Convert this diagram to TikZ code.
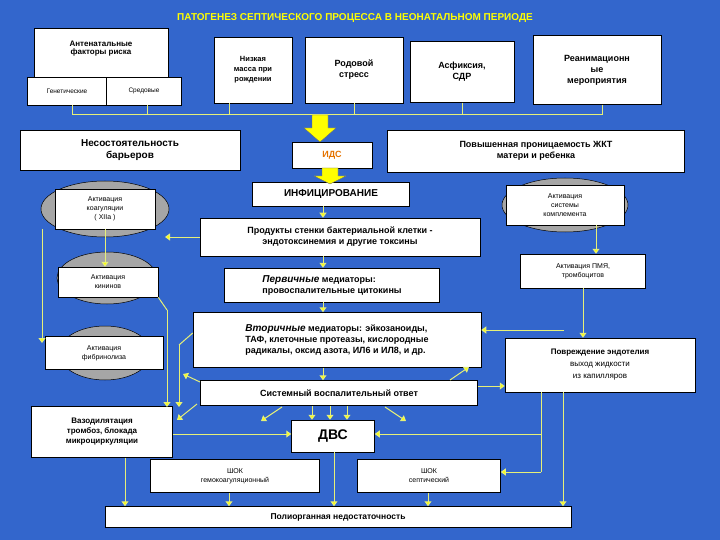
\documentclass[tikz,border=0pt]{standalone}
\usepackage{fontspec}
\setmainfont{Liberation Sans}
\usetikzlibrary{arrows.meta,shapes.geometric}
\definecolor{bg}{RGB}{51,102,204}
\definecolor{yl}{RGB}{255,255,0}
\definecolor{ln}{RGB}{230,240,120}
\begin{document}
\begin{tikzpicture}[x=1pt,y=-1pt,
 box/.style={draw=black,fill=white,line width=0.5pt,align=center,inner sep=1pt,font=\fontsize{9}{11}\selectfont\bfseries},
 sbox/.style={box,font=\fontsize{7}{9}\selectfont},
 ell/.style={ellipse,draw=black,fill=gray!70,line width=0.5pt},
 ar/.style={draw=ln,line width=1pt,-{Triangle[length=5pt,width=7pt,fill=yl]}},
 ln/.style={draw=ln,line width=1pt},
 blk/.style={fill=yl,draw=black!60,line width=0.3pt}]
\fill[bg] (0,0) rectangle (720,540);
\useasboundingbox (0,0) rectangle (720,540);
\node[font=\fontsize{10}{12}\selectfont\bfseries,text=yl] (title) at (355,18) {ПАТОГЕНЕЗ СЕПТИЧЕСКОГО ПРОЦЕССА В НЕОНАТАЛЬНОМ ПЕРИОДЕ};
% top boxes
\node[box,font=\fontsize{8}{10}\selectfont\bfseries,minimum width=134pt,minimum height=49pt,anchor=north,text depth=0pt] (ant) at (101,28) {\raisebox{10pt}{\shortstack{Антенатальные\\факторы риска}}};
\node[sbox,font=\fontsize{6.5}{8}\selectfont,minimum width=79pt,minimum height=28pt] (gen) at (67,91) {Генетические};
\node[sbox,font=\fontsize{6.5}{8}\selectfont,minimum width=75pt,minimum height=28pt] (sred) at (144,91) {Средовые};
\node[box,font=\fontsize{7.5}{10}\selectfont\bfseries,minimum width=78pt,minimum height=66pt] (niz) at (253,70) {Низкая\\масса при\\рождении};
\node[box,minimum width=98pt,minimum height=66pt] (rod) at (354,70) {Родовой\\стресс};
\node[box,minimum width=104pt,minimum height=61pt] (asf) at (462,72) {Асфиксия,\\СДР};
\node[box,minimum width=128pt,minimum height=69pt] (rean) at (597,70) {Реанимационн\\ые\\мероприятия};
% bus
\coordinate (b1) at (72,115); \coordinate (b6) at (602,115);
\draw[ln] (b1) -- (b6);
\draw[ln] (gen.south -| b1) -- (b1);
\draw[ln] (sred.south -| 147,0) -- (147,115);
\draw[ln] (niz.south -| 229,0) -- (229,115);
\draw[ln] (rod.south) -- (rod.south |- b1);
\draw[ln] (asf.south) -- (asf.south |- b1);
\draw[ln] (rean.south -| b6) -- (b6);
% middle boxes
\node[box,font=\fontsize{10}{12}\selectfont\bfseries,minimum width=220pt,minimum height=40pt] (nes) at (130,150) {Несостоятельность\\барьеров};
\node[box,text=orange!90!black,minimum width=80pt,minimum height=26pt] (ids) at (332,155) {ИДС};
\node[box,minimum width=297pt,minimum height=42pt] (pov) at (536,151) {Повышенная проницаемость ЖКТ\\матери и ребенка};
\fill[blk] (312,115) -- (328,115) -- (328,128) -- (336,128) -- (320,142) -- (304,128) -- (312,128) -- cycle;
\node[box,font=\fontsize{10}{12}\selectfont\bfseries,minimum width=157pt,minimum height=24pt] (inf) at (331,194) {ИНФИЦИРОВАНИЕ};
\fill[blk] (322,168) -- (338,168) -- (338,176) -- (346,176) -- (330,184) -- (314,176) -- (322,176) -- cycle;
% ellipses
\node[ell,minimum width=128pt,minimum height=56pt] (ecoag) at (105,209) {};
\node[sbox,minimum width=100pt,minimum height=40pt] (coag) at (105,209) {Активация\\коагуляции\\( XIIa )};
\node[ell,minimum width=126pt,minimum height=54pt] (ecomp) at (565,205) {};
\node[sbox,minimum width=118pt,minimum height=40pt] (comp) at (565,205) {Активация\\системы\\комплемента};
\node[ell,minimum width=100pt,minimum height=52pt] (ekin) at (107,278) {};
\node[sbox,minimum width=100pt,minimum height=30pt] (kin) at (108,282) {Активация\\кининов};
\node[ell,minimum width=92pt,minimum height=54pt] (efib) at (105,353) {};
\node[sbox,minimum width=118pt,minimum height=33pt] (fib) at (104,353) {Активация\\фибринолиза};
% central chain
\node[box,minimum width=280pt,minimum height=38pt] (prod) at (340,237) {Продукты стенки бактериальной клетки -\\эндотоксинемия и другие токсины};
\node[box,align=left,minimum width=215pt,minimum height=34pt] (perv) at (332,285) {\textit{\fontsize{10}{12}\selectfont Первичные} медиаторы:\\провоспалительные цитокины};
\node[sbox,minimum width=125pt,minimum height=34pt] (pmya) at (583,271) {Активация ПМЯ,\\тромбоцитов};
\node[box,align=left,minimum width=288pt,minimum height=55pt] (vtor) at (337,340) {\textit{\fontsize{10}{12}\selectfont Вторичные} медиаторы: эйкозаноиды,\\ТАФ, клеточные протеазы, кислородные\\радикалы, оксид азота, ИЛ6 и ИЛ8, и др.};
\node[box,font=\fontsize{8}{12}\selectfont,minimum width=190pt,minimum height=54pt] (povr) at (600,365) {\textbf{Повреждение эндотелия}\\\mdseries выход жидкости\\\mdseries из капилляров};
\node[box,minimum width=277pt,minimum height=25pt] (sys) at (339,393) {Системный воспалительный ответ};
\node[box,font=\fontsize{8}{10}\selectfont\bfseries,minimum width=141pt,minimum height=51pt] (vaz) at (102,432) {Вазодилятация\\тромбоз, блокада\\микроциркуляции};
\node[box,font=\fontsize{14}{16}\selectfont\bfseries,minimum width=83pt,minimum height=32pt] (dvs) at (333,436) {ДВС};
\node[sbox,minimum width=169pt,minimum height=33pt] (shg) at (235,476) {ШОК\\гемокоагуляционный};
\node[sbox,minimum width=143pt,minimum height=33pt] (shs) at (429,476) {ШОК\\септический};
\node[box,font=\fontsize{8.5}{10}\selectfont\bfseries,minimum width=466pt,minimum height=21pt] (pol) at (338,517) {Полиорганная недостаточность};
% arrows
\draw[ar] (inf.south -| 323,0) -- (prod.north -| 323,0);
\draw[ar] (prod.south -| 323,0) -- (perv.north -| 323,0);
\draw[ar] (perv.south -| 323,0) -- (vtor.north -| 323,0);
\draw[ar] (vtor.south -| 323,0) -- (sys.north -| 323,0);
\draw[ar] (prod.west) -- (165,237);
\draw[ar] (coag.south) -- (kin.north -| coag.south);
\draw[ar] (42,229) -- (42,343);
\draw[ln] (kin.south east) -- (167,310); \draw[ar] (167,310) -- (167,407);
\draw[ln] (vtor.west |- 0,333) -- (179,345); \draw[ar] (179,345) -- (179,407);
\draw[ar] (comp.south -| 596,0) -- (pmya.north -| 596,0);
\draw[ar] (pmya.south -| 583,0) -- (povr.north -| 583,0);
\draw[ar] (564,330) -- (vtor.east |- 0,330);
\draw[ar] (450,380) -- (469,367);
\draw[ar] (200,382) -- (183,374);
\draw[ar] (197,404) -- (177,420);
\draw[ar] (sys.east |- 0,386) -- (povr.west |- 0,386);
\foreach \x in {312,330,347} \draw[ar] (\x,406) -- (dvs.north -| \x,0);
\draw[ar] (282,407) -- (261,421);
\draw[ar] (385,407) -- (406,421);
\draw[ar] (vaz.east |- 0,434) -- (dvs.west |- 0,434);
\draw[ln] (541,392) -- (541,472);
\draw[ar] (541,434) -- (dvs.east |- 0,434);
\draw[ar] (541,472) -- (shs.east |- 0,472);
\draw[ar] (563,392) -- (pol.north -| 563,0);
\draw[ar] (dvs.south -| 334,0) -- (pol.north -| 334,0);
\draw[ar] (shg.south -| 229,0) -- (pol.north -| 229,0);
\draw[ar] (shs.south -| 428,0) -- (pol.north -| 428,0);
\draw[ar] (vaz.south -| 125,0) -- (pol.north -| 125,0);
\end{tikzpicture}
\end{document}
